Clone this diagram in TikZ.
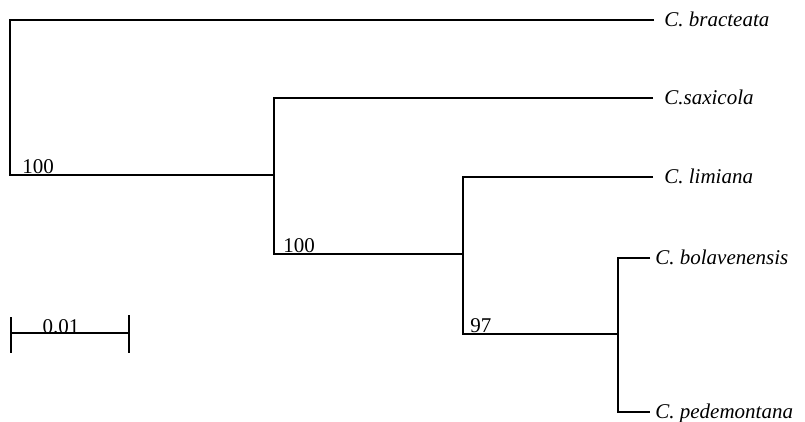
\documentclass[tikz,border=0pt]{standalone}
\usepackage{fontspec}
\setmainfont{Liberation Serif}
\usepackage{tikz}
\usetikzlibrary{calc}
\tikzset{
  edge/.style={line width=0.8pt,draw=black},
  taxon/.style={font=\fontsize{10.5}{12}\selectfont\itshape,anchor=base west,inner sep=0pt},
  support/.style={font=\fontsize{10.5}{12}\selectfont,anchor=base west,inner sep=0pt}
}
\begin{document}
\begin{tikzpicture}[x=0.5pt,y=-0.5pt]
  \useasboundingbox (0,0) rectangle (805,422);

  % leaf tips
  \coordinate (tBra) at (654,20);
  \coordinate (tSax) at (653,98);
  \coordinate (tLim) at (653,177);
  \coordinate (tBol) at (650,258);
  \coordinate (tPed) at (650,412);

  % internal nodes (lower corners)
  \coordinate (nOne)   at (10,175);
  \coordinate (nTwo)   at (274,254);
  \coordinate (nThree) at (463,334);
  \coordinate (nFour)  at (618,412);

  \draw[edge] (tBra) -| (nOne) -- (nOne -| nTwo);
  \draw[edge] (tSax) -| (nTwo) -- (nTwo -| nThree);
  \draw[edge] (tLim) -| (nThree) -- (nThree -| nFour);
  \draw[edge] (tBol) -| (nFour) -- (tPed);

  \node[taxon] (lBra) at (664,27) {C. bracteata};
  \node[taxon] (lSax) at (664,105) {C.saxicola};
  \node[taxon] (lLim) at (664,184) {C. limiana};
  \node[taxon] (lBol) at (655,265) {C. bolavenensis};
  \node[taxon] (lPed) at (655,419) {C. pedemontana};

  \node[support] (bOne)   at (22,174) {100};
  \node[support] (bTwo)   at (283,253) {100};
  \node[support] (bThree) at (470,333) {97};

  % scale bar
  \coordinate (sbL) at (11,333);
  \coordinate (sbR) at (129,333);
  \draw[edge] (sbL) -- (sbR);
  \draw[edge] ([yshift=-10]sbL) -- ([yshift=8]sbL);
  \draw[edge] ([yshift=-10]sbR) -- ([yshift=9]sbR);
  \node[support,anchor=base] (sbLab) at (61,334) {0.01};
\end{tikzpicture}
\end{document}
